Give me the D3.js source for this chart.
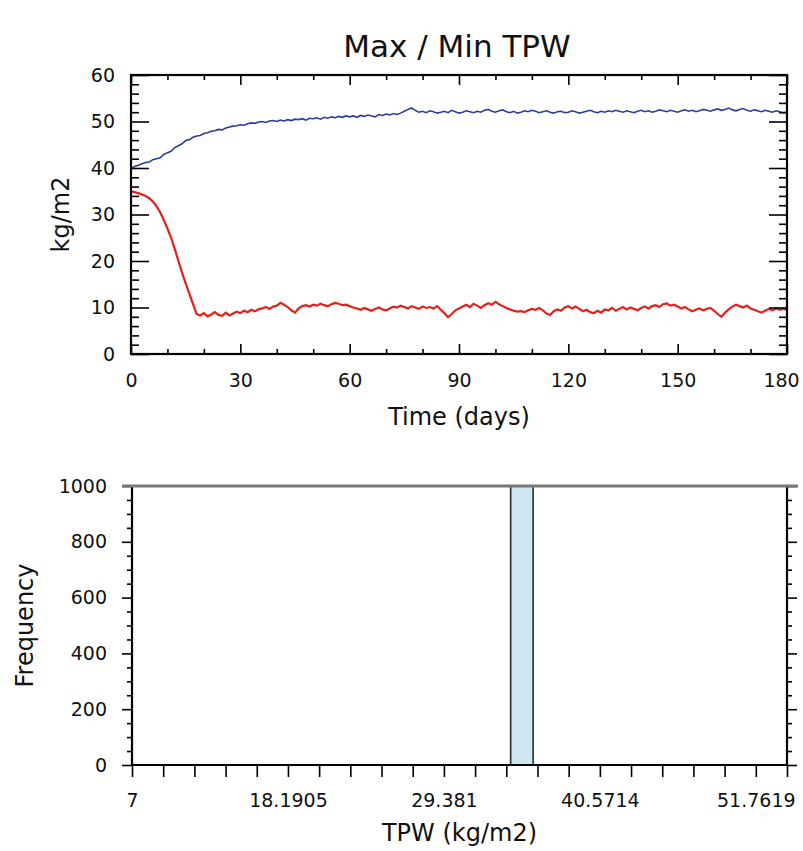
<!DOCTYPE html>
<html lang="en">
<head>
<meta charset="UTF-8">
<title>Max / Min TPW</title>
<style>
    body {
        margin: 0;
        background: #fff;
    }
    svg text {
        font-family: "DejaVu Sans", sans-serif;
        fill: #111;
    }
    .tick line {
        stroke: #000;
        stroke-width: 1.6;
    }
    .domain {
        display: none;
    }
</style>
</head>
<body>
<svg id="chart" width="803" height="851"></svg>
<script src="https://d3js.org/d3.v7.min.js"></script>
<script>
    // ---- data ----
    const days = d3.range(0, 181);

    const maxTPW = [
        40.0, 40.3, 40.6, 40.9, 41.2, 41.3, 41.8, 42.0, 42.2, 42.9,
        43.3, 43.6, 44.4, 44.8, 45.2, 45.9, 46.1, 46.6, 46.9, 47.0,
        47.4, 47.6, 47.9, 48.0, 48.3, 48.2, 48.6, 48.8, 49.0, 49.1,
        49.3, 49.2, 49.5, 49.7, 49.6, 49.9, 50.0, 49.8, 50.1, 50.2,
        50.0, 50.3, 50.1, 50.4, 50.2, 50.5, 50.4, 50.6, 50.3, 50.7,
        50.6, 50.8, 50.5, 50.9, 50.7, 51.0, 50.8, 51.1, 50.9, 51.2,
        51.0, 51.2, 50.9, 51.3, 51.1, 51.4, 51.2, 51.0, 51.5, 51.3,
        51.6, 51.4, 51.7, 51.5, 51.8, 52.2, 52.6, 52.9, 52.4, 52.0,
        52.2, 51.9, 52.3, 52.1, 51.8, 52.0, 52.2, 51.9, 52.4, 52.1,
        51.8, 52.0, 52.3, 52.1, 51.9, 52.2, 52.0, 52.4, 52.6, 52.2,
        52.0, 52.3, 52.5, 52.1, 51.9, 52.2, 51.8, 52.0, 52.3, 52.1,
        52.4, 52.2, 51.9, 52.1, 52.3, 52.0, 51.8, 52.1, 52.2, 51.9,
        52.0, 52.3, 52.1, 51.8, 52.0, 52.2, 52.4, 52.1, 51.9, 52.2,
        52.0, 52.3, 52.1, 52.4, 52.2, 52.0, 52.3, 52.1, 51.9, 52.2,
        52.4, 52.1, 52.3, 52.0, 52.2, 52.5, 52.3, 52.1, 52.4, 52.2,
        52.0, 52.3, 52.5, 52.2, 52.4, 52.1, 52.3, 52.6, 52.4, 52.2,
        52.5, 52.7, 52.4, 52.6, 52.9, 52.5, 52.3, 52.6, 52.8, 52.4,
        52.2, 52.5, 52.3, 52.1, 52.4, 52.2, 52.0, 52.3, 52.1, 51.9,
        52.0
    ];

    const minTPW = [
        35.0, 34.8, 34.6, 34.3, 34.0, 33.5, 32.8, 31.8, 30.5, 28.8,
        27.0, 25.0, 22.6, 20.0, 17.5, 15.2, 13.0, 10.8, 8.6, 8.3,
        8.8, 8.1, 8.5, 9.0, 8.4, 8.2, 8.9, 8.3, 8.7, 9.1,
        8.8, 9.3, 9.0, 9.5, 9.2, 9.6, 9.8, 10.1, 9.7, 10.2,
        10.4, 11.0, 10.6, 10.1, 9.4, 8.9, 9.8, 10.3, 10.5, 10.2,
        10.6, 10.4, 10.8, 10.5, 10.3, 10.7, 11.0, 10.8, 10.5, 10.6,
        10.3, 10.0, 9.8, 9.5, 9.9, 9.6, 9.3, 9.7, 10.0, 9.6,
        9.4, 9.8, 10.2, 10.0, 10.4, 10.1, 9.8, 10.3, 10.0, 9.7,
        10.2, 9.9, 10.1, 9.8, 10.3, 9.5, 8.8, 7.9, 8.6, 9.4,
        9.8, 10.2, 10.6, 10.1, 10.8, 10.4, 9.9, 10.5, 10.9, 10.6,
        11.2, 10.7, 10.3, 9.9, 9.6, 9.3, 9.1, 9.2, 9.0, 9.4,
        9.7, 9.5, 9.9, 9.4, 8.7, 8.4, 9.2, 9.6, 9.3, 10.0,
        10.3, 9.8, 10.2, 9.7, 9.2, 9.5, 9.0, 8.8, 9.3, 8.9,
        9.6, 9.4, 9.9, 9.3, 9.7, 10.1, 9.6, 10.0, 9.7, 9.4,
        9.9, 10.2, 9.8, 10.3, 10.5, 10.1, 10.7, 10.9, 10.4, 10.6,
        10.2, 9.8, 10.1, 9.6, 9.2, 9.5, 9.8, 9.4, 9.7, 9.9,
        9.3, 8.6, 8.0, 8.9, 9.6, 10.2, 10.6, 10.3, 10.0, 10.4,
        9.8, 9.5, 9.2, 8.9, 9.3, 9.7, 9.4, 9.8, 9.5, 9.7,
        9.5
    ];

    const timeTicks = [0, 30, 60, 90, 120, 150, 180];
    const tpwTicks = [0, 10, 20, 30, 40, 50, 60];

    // histogram of TPW: 21 bins between 7 and 54
    const binRange = [7, 54];
    const binCounts = [0, 0, 0, 0, 0, 0, 0, 0, 0, 0, 0, 0, 1000, 0, 0, 0, 0, 0, 0, 0, 0];
    const binTickLabels = ["7", "18.1905", "29.381", "40.5714", "51.7619"];
    const freqTicks = [0, 200, 400, 600, 800, 1000];

    // ---- layout ----
    const svg = d3.select("#chart");
    const p1 = {left: 131, right: 787, top: 75, bottom: 354};
    const p2 = {left: 132, right: 787, top: 486, bottom: 765};

    function addAxis(g, axis) {
        g.call(axis);
        g.selectAll("text").attr("font-size", 19);
        return g;
    }

    // ================= top panel =================
    const x1 = d3.scaleLinear().domain([0, 180]).range([p1.left, p1.right]);
    const y1 = d3.scaleLinear().domain([0, 60]).range([p1.bottom, p1.top]);
    const minorTime = d3.range(0, 181, 10).filter(d => d % 30 !== 0);
    const minorTpw = d3.range(0, 61, 2).filter(d => d % 10 !== 0);

    svg.append("clipPath").attr("id", "clip1")
        .append("rect")
        .attr("x", p1.left).attr("y", p1.top)
        .attr("width", p1.right - p1.left).attr("height", p1.bottom - p1.top);

    const line = d3.line()
        .x((d, i) => x1(days[i]))
        .y(d => y1(d));

    svg.append("path")
        .datum(maxTPW)
        .attr("clip-path", "url(#clip1)")
        .attr("fill", "none")
        .attr("stroke", "#2c3c9c")
        .attr("stroke-width", 1.6)
        .attr("d", line);

    svg.append("path")
        .datum(minTPW)
        .attr("clip-path", "url(#clip1)")
        .attr("fill", "none")
        .attr("stroke", "#e3211c")
        .attr("stroke-width", 2.2)
        .attr("d", line);

    // bottom axis (labelled) + top mirror
    const xAx1 = addAxis(svg.append("g").attr("transform", `translate(0,${p1.bottom})`),
        d3.axisBottom(x1).tickValues(timeTicks).tickSize(-10).tickPadding(20));
    // last label would spill past the page edge, pull it in a little
    xAx1.selectAll("text").filter(d => d === 180).attr("dx", -6);
    addAxis(svg.append("g").attr("transform", `translate(0,${p1.bottom})`),
        d3.axisBottom(x1).tickValues(minorTime).tickSize(-5).tickFormat(""));
    addAxis(svg.append("g").attr("transform", `translate(0,${p1.top})`),
        d3.axisTop(x1).tickValues(timeTicks).tickSize(-10).tickFormat(""));
    addAxis(svg.append("g").attr("transform", `translate(0,${p1.top})`),
        d3.axisTop(x1).tickValues(minorTime).tickSize(-5).tickFormat(""));

    // left axis (labelled) + right mirror
    addAxis(svg.append("g").attr("transform", `translate(${p1.left},0)`),
        d3.axisLeft(y1).tickValues(tpwTicks).tickSize(-18).tickPadding(16));
    addAxis(svg.append("g").attr("transform", `translate(${p1.left},0)`),
        d3.axisLeft(y1).tickValues(minorTpw).tickSize(-8).tickFormat(""));
    addAxis(svg.append("g").attr("transform", `translate(${p1.right},0)`),
        d3.axisRight(y1).tickValues(tpwTicks).tickSize(-18).tickFormat(""));
    addAxis(svg.append("g").attr("transform", `translate(${p1.right},0)`),
        d3.axisRight(y1).tickValues(minorTpw).tickSize(-8).tickFormat(""));

    svg.append("rect")
        .attr("x", p1.left).attr("y", p1.top)
        .attr("width", p1.right - p1.left).attr("height", p1.bottom - p1.top)
        .attr("fill", "none").attr("stroke", "#000").attr("stroke-width", 2.2);

    svg.append("text")
        .attr("x", 457).attr("y", 57)
        .attr("text-anchor", "middle").attr("font-size", 31)
        .text("Max / Min TPW");

    svg.append("text")
        .attr("x", (p1.left + p1.right) / 2).attr("y", 425)
        .attr("text-anchor", "middle").attr("font-size", 24)
        .text("Time (days)");

    svg.append("text")
        .attr("transform", `translate(69,${(p1.top + p1.bottom) / 2}) rotate(-90)`)
        .attr("text-anchor", "middle").attr("font-size", 24)
        .text("kg/m2");

    // ================= bottom panel (histogram) =================
    const x2 = d3.scaleLinear().domain(binRange).range([p2.left, p2.right]);
    const y2 = d3.scaleLinear().domain([0, 1000]).range([p2.bottom, p2.top]);
    const binW = (binRange[1] - binRange[0]) / binCounts.length;
    const binEdges = d3.range(binCounts.length + 1).map(i => binRange[0] + i * binW);
    const labelEdges = binEdges.filter((d, i) => i % 5 === 0 && i < binCounts.length);
    const minorFreq = d3.range(0, 1001, 50).filter(d => d % 200 !== 0);
    const barFrac = 0.72;

    svg.append("g")
        .selectAll("rect")
        .data(binCounts.map((c, i) => ({c: c, x0: binEdges[i]})).filter(d => d.c > 0))
        .join("rect")
        .attr("x", d => x2(d.x0 + binW * (1 - barFrac) / 2))
        .attr("width", d => x2(d.x0 + binW * (1 + barFrac) / 2) - x2(d.x0 + binW * (1 - barFrac) / 2))
        .attr("y", d => y2(Math.min(d.c, 1000)))
        .attr("height", d => p2.bottom - y2(Math.min(d.c, 1000)))
        .attr("fill", "#cde7f1")
        .attr("stroke", "#2a2a2a")
        .attr("stroke-width", 1.6);

    addAxis(svg.append("g").attr("transform", `translate(0,${p2.bottom})`),
        d3.axisBottom(x2).tickValues(binEdges).tickSize(12).tickFormat(""));
    const xLab = addAxis(svg.append("g").attr("transform", `translate(0,${p2.bottom})`),
        d3.axisBottom(x2).tickValues(labelEdges).tickSize(12).tickPadding(17)
            .tickFormat((d, i) => binTickLabels[i]));
    xLab.selectAll("line").remove();

    addAxis(svg.append("g").attr("transform", `translate(${p2.left},0)`),
        d3.axisLeft(y2).tickValues(freqTicks).tickSize(10).tickPadding(15).tickFormat(d3.format("d")));
    addAxis(svg.append("g").attr("transform", `translate(${p2.left},0)`),
        d3.axisLeft(y2).tickValues(minorFreq).tickSize(5).tickFormat(""));
    addAxis(svg.append("g").attr("transform", `translate(${p2.right},0)`),
        d3.axisRight(y2).tickValues(freqTicks).tickSize(10).tickFormat(""));
    addAxis(svg.append("g").attr("transform", `translate(${p2.right},0)`),
        d3.axisRight(y2).tickValues(minorFreq).tickSize(5).tickFormat(""));

    svg.append("path")
        .attr("d", `M${p2.left},${p2.top}V${p2.bottom}H${p2.right}V${p2.top}`)
        .attr("fill", "none").attr("stroke", "#000").attr("stroke-width", 2.2);

    svg.append("line")
        .attr("x1", 122).attr("x2", 798)
        .attr("y1", p2.top).attr("y2", p2.top)
        .attr("stroke", "#777").attr("stroke-width", 3);

    svg.append("text")
        .attr("x", (p2.left + p2.right) / 2).attr("y", 841)
        .attr("text-anchor", "middle").attr("font-size", 24)
        .text("TPW (kg/m2)");

    svg.append("text")
        .attr("transform", `translate(33,${(p2.top + p2.bottom) / 2}) rotate(-90)`)
        .attr("text-anchor", "middle").attr("font-size", 24)
        .text("Frequency");
</script>
</body>
</html>
